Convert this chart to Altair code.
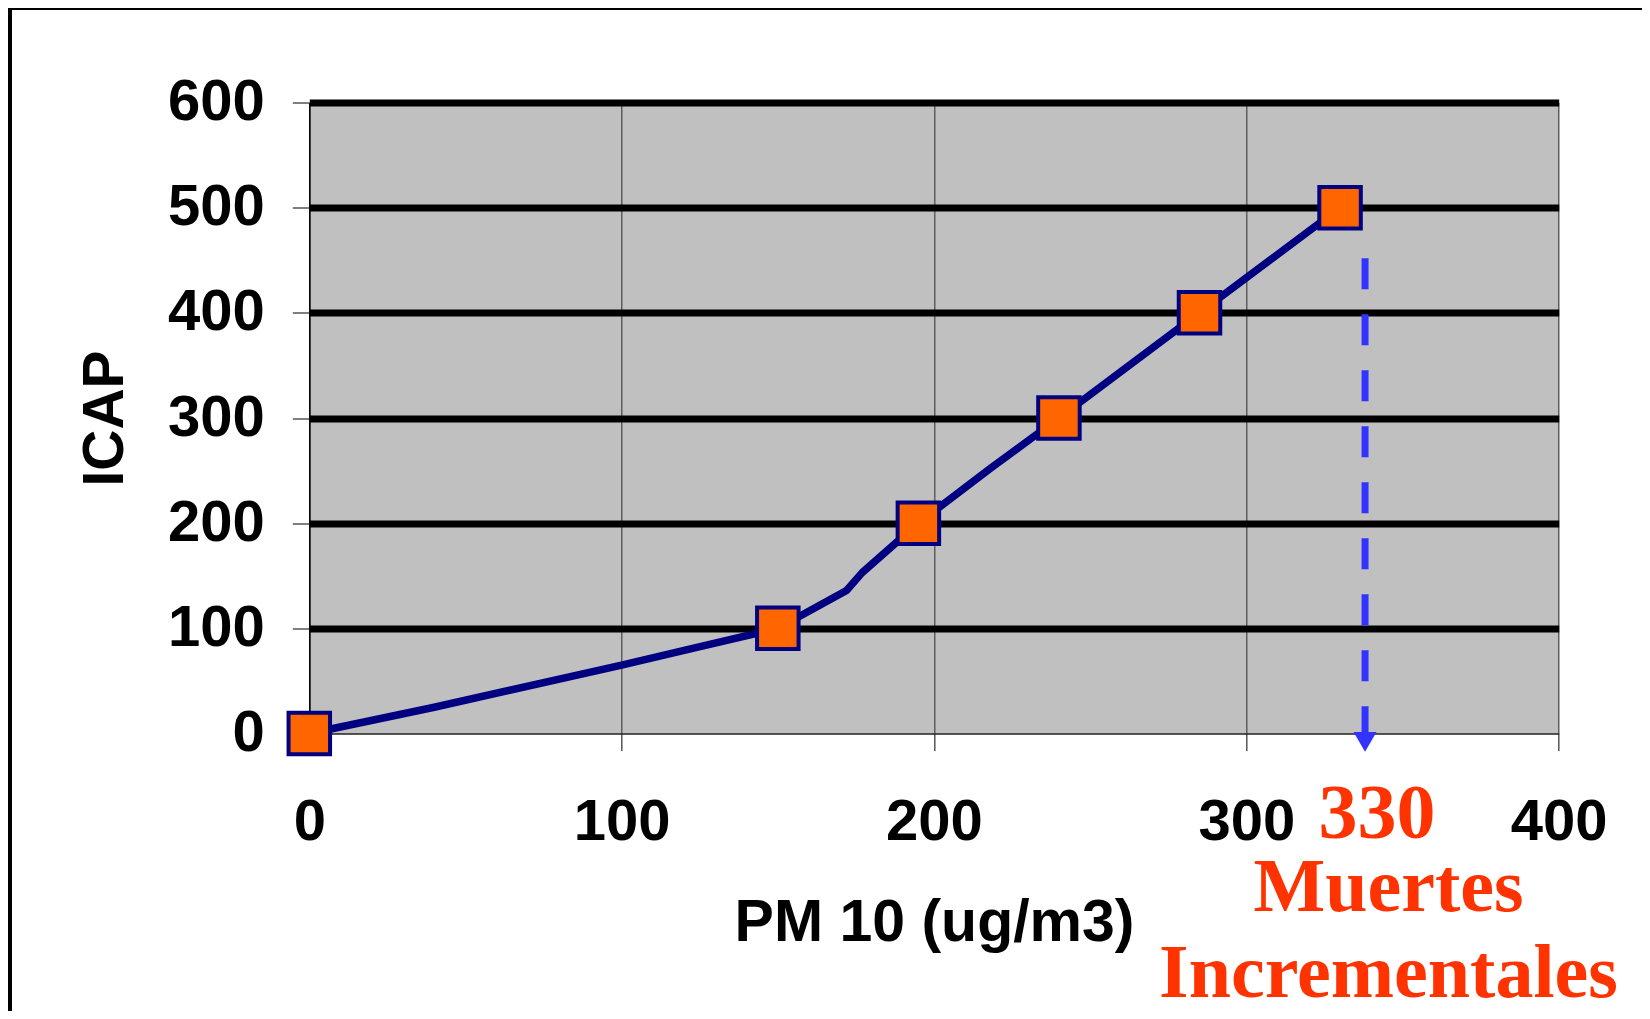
import altair as alt
import pandas as pd

# ---- data ----
pm10_line = [0, 40, 100, 120, 150, 172, 177, 195, 218, 240, 285, 330]
icap_line = [0, 25, 65, 79, 100, 136, 153, 200, 252, 300, 400, 500]
pm10_pts = [0, 150, 195, 240, 285, 330]
icap_pts = [0, 100, 200, 300, 400, 500]
x_ticks = [0, 100, 200, 300, 400]
y_ticks = [0, 100, 200, 300, 400, 500, 600]
arrow_pm10 = [338]
arrow_top = [452]
arrow_bottom = [0]
arrow_head_icap = [-8]
value_label = ["330"]
value_label_pm10 = [341.8]
caption_lines = ["Muertes", "Incrementales"]
caption_pm10 = [345.5, 345.5]

# ---- layout (plot area in pixels) ----
W, H = 1249.4, 631
PAD_L, PAD_T = 301.3, 94.5
PAD_R = 1634 - PAD_L - W
PAD_B = 1003 - PAD_T - H

SANS = "Liberation Sans"
SERIF = "Liberation Serif"
RED = "#FF3300"
NAVY = "#000080"

xscale = alt.Scale(domain=[0, 400], nice=False, zero=False)
yscale = alt.Scale(domain=[0, 600], nice=False, zero=False)

xaxis = alt.Axis(
    values=x_ticks, title="PM 10 (ug/m3)",
    titleFont=SANS, titleFontSize=59, titleFontWeight="bold", titleColor="black",
    titleBaseline="alphabetic", titleY=206.5,
    labelFont=SANS, labelFontSize=58, labelFontWeight="bold", labelColor="black",
    labelPadding=42.5, labelFlush=False, labelOverlap=False,
    tickSize=17, tickColor="#555555", tickWidth=1.5,
    domainColor="#222222", domainWidth=1.5,
    grid=True, gridColor="#444444", gridWidth=1.2,
)
yaxis = alt.Axis(
    values=y_ticks, title="ICAP",
    titleFont=SANS, titleFontSize=57, titleFontWeight="bold", titleColor="black",
    titleBaseline="alphabetic", titleX=-186.3,
    labelFont=SANS, labelFontSize=58, labelFontWeight="bold", labelColor="black",
    labelPadding=28, labelOverlap=False,
    tickSize=17, tickColor="#555555", tickWidth=1.5,
    domainColor="black", domainWidth=1.5,
    grid=True, gridColor="black",
    gridWidth={"condition": {"test": "datum.value === 0", "value": 0}, "value": 7},
)

X = alt.X("pm10:Q", scale=xscale, axis=xaxis)
Y = alt.Y("icap:Q", scale=yscale, axis=yaxis)

line_df = pd.DataFrame({"pm10": pm10_line, "icap": icap_line})
pts_df = pd.DataFrame({"pm10": pm10_pts, "icap": icap_pts})
arrow_df = pd.DataFrame({"pm10": arrow_pm10, "icap": arrow_top, "icap2": arrow_bottom})
head_df = pd.DataFrame({"pm10": arrow_pm10, "icap": arrow_head_icap})

line = alt.Chart(line_df).mark_line(color=NAVY, strokeWidth=7.5, strokeJoin="round").encode(
    x=X, y=Y, order="pm10:Q")
points = alt.Chart(pts_df).mark_point(
    shape="square", filled=True, fill="#FF6600", stroke=NAVY, strokeWidth=4,
    size=1722, opacity=1).encode(x=X, y=Y)
arrow = alt.Chart(arrow_df).mark_rule(
    color="#3333FF", strokeWidth=7, strokeDash=[31, 25]).encode(
    x=X, y=Y, y2="icap2:Q")
head = alt.Chart(head_df).mark_point(
    shape="triangle-down", filled=True, color="#3333FF", size=529, opacity=1).encode(x=X, y=Y)

val_df = pd.DataFrame({"pm10": value_label_pm10, "label": value_label})
val_text = alt.Chart(val_df).mark_text(
    font=SERIF, fontWeight="bold", fontSize=78, color=RED,
    align="center", baseline="alphabetic").encode(
    x=X, y=alt.value(735.5), text="label:N")

caption_y = [808.5, 894.5]
cap_layers = []
for lab, px, py in zip(caption_lines, caption_pm10, caption_y):
    d = pd.DataFrame({"pm10": [px], "label": [lab]})
    cap_layers.append(
        alt.Chart(d).mark_text(
            font=SERIF, fontWeight="bold", fontSize=76, color=RED,
            align="center", baseline="alphabetic").encode(
            x=X, y=alt.value(py), text="label:N")
    )

# decorative frame (left and top black border of the slide)
frame_left = alt.Chart(pts_df).mark_rule(color="black", strokeWidth=5).encode(
    x=alt.value(1.5 - PAD_L), y=alt.value(-PAD_T), y2=alt.value(H + PAD_B))
frame_top = alt.Chart(pts_df).mark_rule(color="black", strokeWidth=4).encode(
    x=alt.value(-PAD_L), x2=alt.value(W + PAD_R), y=alt.value(-PAD_T))

chart = alt.layer(line, points, arrow, head, val_text, *cap_layers, frame_left, frame_top).properties(
    width=W, height=H,
    autosize=alt.AutoSizeParams(type="none"),
    padding={"left": PAD_L, "top": PAD_T, "right": PAD_R, "bottom": PAD_B},
    background="white",
).configure_view(fill="#C0C0C0", stroke="transparent")

chart.save("out.html", embed_options={"renderer": "svg", "actions": False})
